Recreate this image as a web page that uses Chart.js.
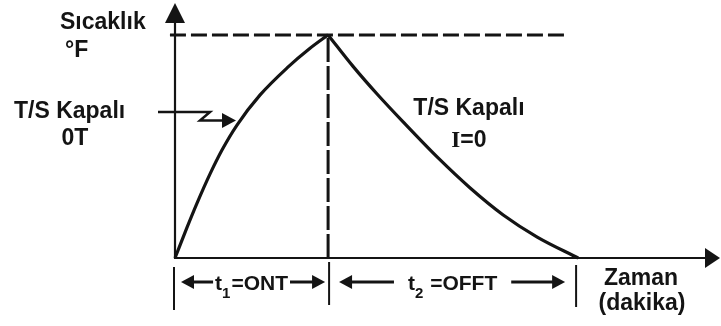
<!DOCTYPE html>
<html>
<head>
<meta charset="utf-8">
<script src="https://cdn.jsdelivr.net/npm/chart.js@4.4.1/dist/chart.umd.min.js"></script>
<style>
html,body{margin:0;padding:0;background:#fff;}
#wrap{width:721px;height:326px;position:relative;}
</style>
</head>
<body>
<div id="wrap"><canvas id="c" width="721" height="326"></canvas></div>
<script>
// ---- data (time in arbitrary minutes, temperature in % of peak) ----
const heatTime = [0, 0.78, 1.44, 2.29, 3.07, 4.05, 5.56, 7.32, 8.82, 10];
const heatTemp = [0, 13.6, 24.6, 37.7, 48.4, 59.6, 73.1, 85.2, 94.0, 100];
const coolTime = [10, 11.63, 13.2, 14.9, 17.12, 19.28, 21.44, 23.66, 26.34];
const coolTemp = [100, 85.9, 73.5, 61.0, 45.3, 31.4, 19.3, 9.4, 0];
const peakTemp = 100;
const onTime = 10;
const offEnd = 26.2;
const peakLineTime = [-0.33, 25.5];
const xMax = 35.6;
const yMax = 114.3;

const yTitle = ['Sıcaklık', '°F'];
const xTitle = ['Zaman', '(dakika)'];
const heatLabel = ['T/S Kapalı', '0T'];
const coolLabel = ['T/S Kapalı', 'I', '=0'];
const span1 = ['t', '1', '=ONT'];
const span2 = ['t', '2', ' =OFFT'];

const INK = '#141414';
const FONT = '"Liberation Sans", Arial, sans-serif';

function pts(xs, ys){ return xs.map((x,i)=>({x:x, y:ys[i]})); }

function arrowHead(ctx, tipX, tipY, dir, len, half){
  ctx.beginPath();
  if(dir==='up'){ ctx.moveTo(tipX, tipY); ctx.lineTo(tipX-half, tipY+len); ctx.lineTo(tipX+half, tipY+len); }
  else if(dir==='right'){ ctx.moveTo(tipX, tipY); ctx.lineTo(tipX-len, tipY-half); ctx.lineTo(tipX-len, tipY+half); }
  else { ctx.moveTo(tipX, tipY); ctx.lineTo(tipX+len, tipY-half); ctx.lineTo(tipX+len, tipY+half); }
  ctx.closePath(); ctx.fill();
}
function line(ctx, x1,y1,x2,y2,w){
  ctx.lineWidth=w; ctx.beginPath(); ctx.moveTo(x1,y1); ctx.lineTo(x2,y2); ctx.stroke();
}

const decor = {
  id:'decor',
  afterDatasetsDraw(chart){
    const ctx = chart.ctx, xs = chart.scales.x, ys = chart.scales.y;
    const ox = xs.getPixelForValue(0), oy = ys.getPixelForValue(0);
    const area = chart.chartArea;
    ctx.save();
    ctx.strokeStyle = INK; ctx.fillStyle = INK; ctx.lineCap='butt';
    // axes
    line(ctx, ox, oy+0.5, ox, area.top+19, 2.2);
    arrowHead(ctx, ox, area.top, 'up', 20, 10);
    line(ctx, ox-1, oy, area.right-15, oy, 2.2);
    arrowHead(ctx, area.right, oy, 'right', 15, 10);

    // dimension lines
    const p0 = ox, p1 = xs.getPixelForValue(onTime), p2 = xs.getPixelForValue(offEnd);
    line(ctx, p0-1, oy+9, p0-1, oy+52, 2);
    line(ctx, p1+1, oy+4, p1+1, oy+47, 2);
    line(ctx, p2, oy+7, p2, oy+49, 2);
    const ay = oy+24;
    function span(a, b, parts, gap, tipPad){
      ctx.font = 'bold 21px '+FONT;
      const w1 = ctx.measureText(parts[0]).width;
      ctx.font = 'bold 15px '+FONT;
      const w2 = ctx.measureText(parts[1]).width;
      ctx.font = 'bold 21px '+FONT;
      const w3 = ctx.measureText(parts[2]).width;
      const total = w1+w2+w3+1;
      const cx = (a+b)/2, tx = cx-total/2;
      ctx.textBaseline='alphabetic'; ctx.textAlign='left';
      ctx.fillText(parts[0], tx, ay+8);
      ctx.font = 'bold 15px '+FONT;
      ctx.fillText(parts[1], tx+w1, ay+16);
      ctx.font = 'bold 21px '+FONT;
      ctx.fillText(parts[2], tx+w1+w2+1, ay+8);
      const lt = a+tipPad[0], rt = b-tipPad[1];
      arrowHead(ctx, lt, ay, 'left', 13, 7);
      line(ctx, lt+12, ay, tx-gap, ay, 3);
      arrowHead(ctx, rt, ay, 'right', 13, 7);
      line(ctx, tx+total+gap, ay, rt-12, ay, 3);
    }
    span(p0, p1, span1, 2, [6, 3]);
    span(p1, p2+1, span2, 14, [11, 12]);

    // titles
    ctx.textBaseline='alphabetic';
    ctx.font = 'bold 23px '+FONT;
    ctx.textAlign='left';
    ctx.fillText(yTitle[0], 60, 29);
    ctx.fillText(yTitle[1], 65, 57);
    ctx.textAlign='center';
    ctx.fillText(xTitle[0], 641, oy+27);
    ctx.fillText(xTitle[1], 642, oy+52);

    // heating label + zigzag arrow
    ctx.textAlign='left';
    ctx.fillText(heatLabel[0], 14, 118);
    ctx.textAlign='center';
    ctx.fillText(heatLabel[1], 75, 145);
    ctx.lineWidth=2.5; ctx.lineJoin='miter';
    ctx.beginPath(); ctx.moveTo(158,112); ctx.lineTo(210,112); ctx.lineTo(200,120.5); ctx.lineTo(223,120.5); ctx.stroke();
    arrowHead(ctx, 236, 120.5, 'right', 14, 7.5);

    // cooling label
    const cx = xs.getPixelForValue(19.2);
    ctx.textAlign='center';
    ctx.font = 'bold 23px '+FONT;
    ctx.fillText(coolLabel[0], cx, 115);
    ctx.font = 'bold 23px "Liberation Serif", serif';
    const wI = ctx.measureText(coolLabel[1]).width;
    ctx.font = 'bold 23px '+FONT;
    const wR = ctx.measureText(coolLabel[2]).width;
    const sx = cx - (wI+wR)/2;
    ctx.textAlign='left';
    ctx.font = 'bold 23px "Liberation Serif", serif';
    ctx.fillText(coolLabel[1], sx, 147);
    ctx.font = 'bold 23px '+FONT;
    ctx.fillText(coolLabel[2], sx+wI, 147);
    ctx.restore();
  }
};

new Chart(document.getElementById('c'), {
  type:'scatter',
  data:{
    datasets:[
      {data: pts(peakLineTime, [peakTemp, peakTemp]), showLine:true, borderColor:INK, borderWidth:3, borderDash:[16,5], pointRadius:0, clip:false},
      {data: pts([onTime, onTime], [0, peakTemp]), showLine:true, borderColor:INK, borderWidth:3, borderDash:[24,4], pointRadius:0, clip:false},
      {data: pts(heatTime, heatTemp), showLine:true, borderColor:INK, borderWidth:3.2, cubicInterpolationMode:'monotone', pointRadius:0, clip:false},
      {data: pts(coolTime, coolTemp), showLine:true, borderColor:INK, borderWidth:3.2, cubicInterpolationMode:'monotone', pointRadius:0, clip:false}
    ]
  },
  options:{
    responsive:false, animation:false, devicePixelRatio:1,
    layout:{padding:{left:175, right:1, top:3, bottom:68}},
    plugins:{legend:{display:false}, tooltip:{enabled:false}},
    scales:{
      x:{type:'linear', min:0, max:xMax, display:false},
      y:{type:'linear', min:0, max:yMax, display:false}
    }
  },
  plugins:[decor]
});
</script>
</body>
</html>
